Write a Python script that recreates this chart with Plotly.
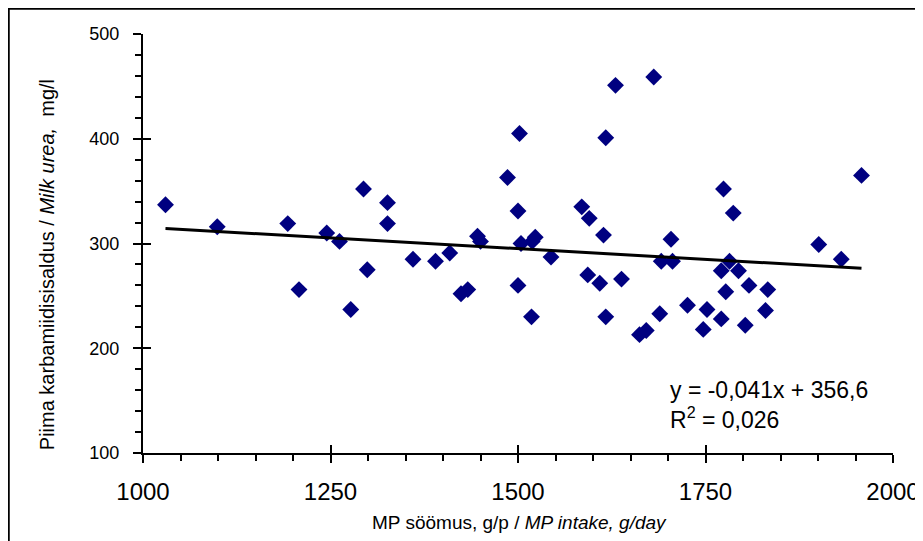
import numpy as np
import plotly.graph_objects as go

# MP intake (g/day) and milk urea (mg/l)
mp_intake = [1030, 1099, 1193, 1245, 1262, 1208, 1277, 1294, 1299, 1326,
             1326, 1360, 1390, 1409, 1424, 1433, 1446, 1450, 1486, 1500,
             1502, 1500, 1504, 1519, 1523, 1518, 1544, 1585, 1595, 1593,
             1609, 1614, 1617, 1617, 1630, 1638, 1662, 1671, 1681, 1689,
             1691, 1706, 1704, 1726, 1747, 1752, 1771, 1771, 1774, 1777,
             1782, 1787, 1794, 1803, 1808, 1830, 1833, 1901, 1931, 1958]
milk_urea = [337, 316, 319, 310, 302, 256, 237, 352, 275, 339,
             319, 285, 283, 291, 252, 256, 307, 302, 363, 331,
             405, 260, 300, 302, 306, 230, 287, 335, 324, 270,
             262, 308, 401, 230, 451, 266, 213, 217, 459, 233,
             283, 283, 304, 241, 218, 237, 228, 274, 352, 254,
             283, 329, 274, 222, 260, 236, 256, 299, 285, 365]

# trend line as printed on the chart
SLOPE = -0.041
INTERCEPT = 356.6
R2 = 0.026

x_ticks = [1000, 1250, 1500, 1750, 2000]
y_ticks = [100, 200, 300, 400, 500]

FONT = "Arial, Liberation Sans, sans-serif"

trend_x = np.array([min(mp_intake), max(mp_intake)])
trend_y = SLOPE * trend_x + INTERCEPT

fig = go.Figure()
fig.add_trace(go.Scatter(
    x=mp_intake, y=milk_urea, mode="markers",
    marker=dict(symbol="diamond", size=13, color="#000080",
                line=dict(width=0)),
    showlegend=False,
))
fig.add_trace(go.Scatter(
    x=trend_x, y=trend_y, mode="lines",
    line=dict(color="black", width=3), showlegend=False,
))

axis_common = dict(showgrid=False, zeroline=False, linecolor="black",
                   linewidth=2, tickcolor="black", tickwidth=2,
                   automargin=False)

# page body has an 8px margin, so the figure is 8px smaller than the window
fig.update_layout(
    template="none",
    width=915, height=533,
    margin=dict(l=135, r=30, t=26, b=88),
    paper_bgcolor="white", plot_bgcolor="white",
    font=dict(family=FONT, color="black"),
    xaxis=dict(range=[1000, 2000], tickvals=x_ticks, ticks="outside",
               ticklen=8, showline=True, tickfont=dict(size=24),
               ticklabelstandoff=8,
               minor=dict(dtick=50, ticks="outside", ticklen=6,
                          tickwidth=1.5, tickcolor="black"),
               **axis_common),
    yaxis=dict(range=[100, 500], tickvals=y_ticks, ticks="outside",
               ticklen=8, showline=True, tickfont=dict(size=18),
               ticklabelstandoff=10,
               minor=dict(dtick=20, ticks="outside", ticklen=6,
                          tickwidth=1.5, tickcolor="black"),
               **axis_common),
    # overlay axes give the crossing major ticks
    xaxis2=dict(range=[1000, 2000], tickvals=x_ticks, ticks="inside",
                ticklen=8, showticklabels=False, overlaying="x",
                side="bottom", **axis_common),
    yaxis2=dict(range=[100, 500], tickvals=y_ticks, ticks="inside",
                ticklen=8, showticklabels=False, overlaying="y",
                side="left", **axis_common),
)
fig.add_trace(go.Scatter(x=[None], y=[None], xaxis="x2", yaxis="y2",
                         showlegend=False, hoverinfo="skip"))

fig.add_annotation(
    text="Piima karbamiidisisaldus / <i>Milk urea,</i>  mg/l",
    xref="paper", yref="paper", x=-0.127, y=0.45, textangle=-90,
    xanchor="center", yanchor="middle",
    showarrow=False, font=dict(size=20),
)
fig.add_annotation(
    text="MP söömus, g/p / <i>MP intake, g/day</i>",
    xref="paper", yref="paper", x=0.502, y=-0.165,
    xanchor="center", yanchor="middle",
    showarrow=False, font=dict(size=19),
)
fig.add_annotation(
    text=f"y = {SLOPE:.3f}x + {INTERCEPT:.1f}".replace(".", ","),
    xref="paper", yref="paper", x=0.70, y=0.150,
    xanchor="left", yanchor="middle",
    showarrow=False, font=dict(size=23),
)
fig.add_annotation(
    text=f"R<sup>2</sup> = {R2:.3f}".replace(".", ","),
    xref="paper", yref="paper", x=0.70, y=0.083,
    xanchor="left", yanchor="middle",
    showarrow=False, font=dict(size=23),
)

# outer chart border
fig.add_shape(type="rect", xref="paper", yref="paper",
              x0=-0.179, x1=1.035, y0=-0.3, y1=1.06,
              line=dict(color="black", width=2))

fig.write_html("out.html")
